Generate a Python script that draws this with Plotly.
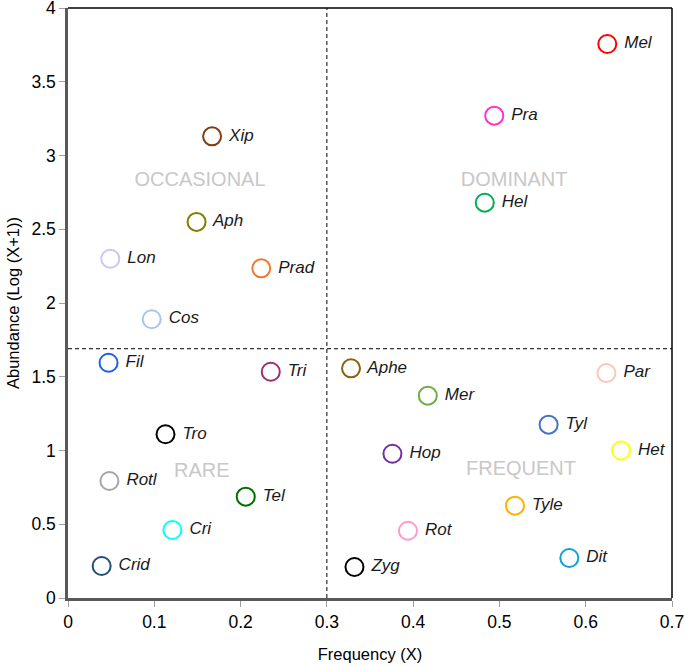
import plotly.graph_objects as go

species = ["Mel", "Pra", "Hel", "Xip", "Aph", "Lon", "Prad", "Cos",
           "Fil", "Tri", "Tro", "Rotl", "Tel", "Cri", "Crid",
           "Aphe", "Mer", "Par", "Tyl", "Hop", "Het", "Tyle", "Rot", "Dit", "Zyg"]
frequency = [0.625, 0.494, 0.483, 0.167, 0.149, 0.049, 0.224, 0.097,
             0.047, 0.235, 0.113, 0.048, 0.206, 0.121, 0.039,
             0.328, 0.417, 0.624, 0.557, 0.376, 0.641, 0.518, 0.394, 0.581, 0.332]
abundance = [3.756, 3.27, 2.68, 3.13, 2.55, 2.30, 2.235, 1.89,
             1.595, 1.534, 1.11, 0.793, 0.687, 0.461, 0.217,
             1.557, 1.372, 1.525, 1.175, 0.978, 1.0, 0.626, 0.456, 0.271, 0.21]
colors = ["#FF0000", "#FF33CC", "#00B050", "#7F3F0F", "#808000", "#C8C8F8", "#F07830", "#A8C4EC",
          "#1F5FF0", "#A03068", "#000000", "#A6A6A6", "#007000", "#00FFFF", "#1F4E79",
          "#8B6410", "#70AD47", "#F8C8B8", "#4472C4", "#7030A0", "#FFFF00", "#FFB000", "#FF99CC", "#10A0D8", "#000000"]

quadrant_names = ["OCCASIONAL", "DOMINANT", "RARE", "FREQUENT"]
quadrant_x = [0.153, 0.517, 0.155, 0.525]
quadrant_y = [2.83, 2.83, 0.856, 0.865]

x_threshold = 0.3
y_threshold = 1.69
x_range = [0, 0.7]
y_range = [0, 4]
x_ticks = [0, 0.1, 0.2, 0.3, 0.4, 0.5, 0.6, 0.7]
y_ticks = [0, 0.5, 1, 1.5, 2, 2.5, 3, 3.5, 4]

font = "Liberation Sans, Arial, sans-serif"

fig = go.Figure()

# quadrant labels
fig.add_trace(go.Scatter(
    x=quadrant_x, y=quadrant_y, mode="text", text=quadrant_names,
    textfont=dict(family=font, size=20, color="#C8C8C8"),
    hoverinfo="skip", showlegend=False))

# dashed threshold lines
fig.add_trace(go.Scatter(
    x=[x_threshold, x_threshold], y=y_range, mode="lines",
    line=dict(color="#000000", width=1, dash="4px,3px"),
    hoverinfo="skip", showlegend=False))
fig.add_trace(go.Scatter(
    x=x_range, y=[y_threshold, y_threshold], mode="lines",
    line=dict(color="#000000", width=1, dash="4px,3px"),
    hoverinfo="skip", showlegend=False))

fig.add_trace(go.Scatter(
    x=frequency, y=abundance, mode="markers+text",
    text=["<i> " + s + "</i>" for s in species],
    textposition="middle right",
    textfont=dict(family=font, size=17, color="#1a1a1a"),
    marker=dict(symbol="circle-open", size=18, color=colors,
                line=dict(width=2, color=colors)),
    showlegend=False, cliponaxis=False))

# top / right frame
fig.add_shape(type="line", xref="paper", yref="paper", x0=0, x1=1, y0=1, y1=1,
              line=dict(color="#000000", width=1.5))
fig.add_shape(type="line", xref="paper", yref="paper", x0=1, x1=1, y0=0, y1=1,
              line=dict(color="#000000", width=1.5))

fig.update_layout(
    width=685, height=666,
    margin=dict(l=68, r=13, t=8, b=68, autoexpand=False),
    paper_bgcolor="white", plot_bgcolor="white",
    font=dict(family=font, size=17, color="#000000"),
    xaxis=dict(range=x_range, tickvals=x_ticks, ticktext=[str(v) for v in x_ticks],
               automargin=False, ticklabeloverflow="allow",
               showgrid=False, zeroline=False, showline=True, linecolor="#595959", linewidth=2.5,
               ticks="outside", ticklen=6, tickcolor="#A0A0A0", tickwidth=1,
               tickfont=dict(size=17.5), title=dict(text="Frequency (X)", font=dict(size=16.5), standoff=18)),
    yaxis=dict(range=y_range, tickvals=y_ticks, ticktext=[("%g" % v) for v in y_ticks],
               automargin=False, ticklabeloverflow="allow",
               showgrid=False, zeroline=False, showline=True, linecolor="#595959", linewidth=2.5,
               ticks="outside", ticklen=6, tickcolor="#A0A0A0", tickwidth=1,
               tickfont=dict(size=17.5), title=dict(text="Abundance (Log (X+1))", font=dict(size=16.5), standoff=8)),
)

fig.write_html("out.html", config={"displayModeBar": False},
               post_script="document.body.style.margin='0';document.body.style.overflow='hidden';")
